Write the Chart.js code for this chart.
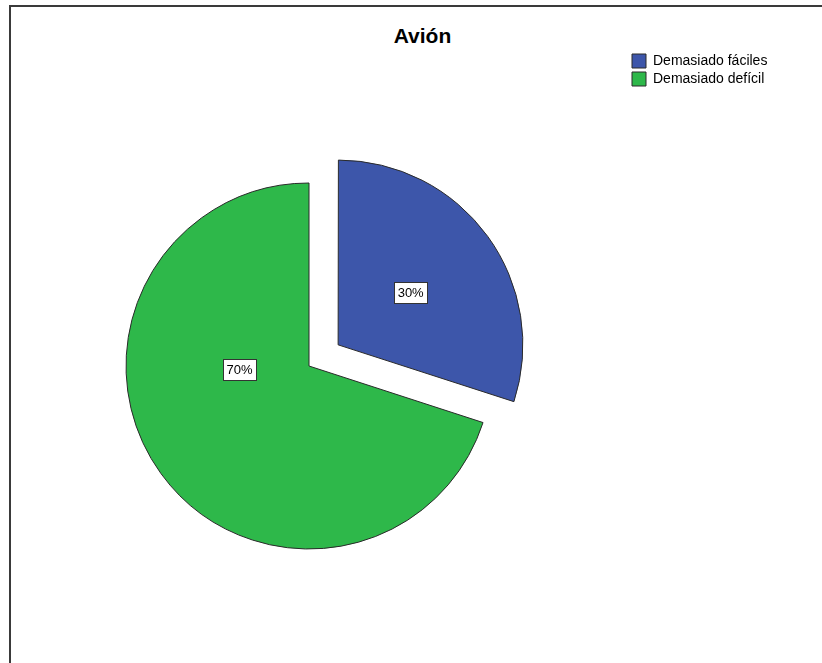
<!DOCTYPE html>
<html lang="es">
<head>
<meta charset="utf-8">
<title>Avión</title>
<script src="https://cdn.jsdelivr.net/npm/chart.js@4/dist/chart.umd.min.js"></script>
<style>
    html, body {
        margin: 0;
        padding: 0;
        width: 822px;
        height: 663px;
        overflow: hidden;
        background: #ffffff;
        font-family: "Liberation Sans", Arial, sans-serif;
    }
    #frame {
        position: absolute;
        left: 9px;
        top: 5px;
        width: 830px;
        height: 680px;
        border-left: 2px solid #3a3a3a;
        border-top: 2px solid #3a3a3a;
    }
    #title {
        position: absolute;
        left: 0;
        top: 25px;
        width: 845px;
        text-align: center;
        font-weight: bold;
        font-size: 21px;
        line-height: 21px;
        color: #000;
    }
    #wrap {
        position: absolute;
        left: -10px;
        top: 0;
        width: 832px;
        height: 760px;
    }
</style>
</head>
<body>
<div id="frame"></div>
<div id="title">Avión</div>
<div id="wrap"><canvas id="pieChart" width="832" height="760"></canvas></div>

<script>
// Данные диаграммы
const categories = ['Demasiado fáciles', 'Demasiado defícil'];
const values = [30, 70];
const sliceColors = ['#3d56aa', '#2eb84a'];

// Подписи процентов в белых рамках
const pctLabels = {
    id: 'pctLabels',
    afterDatasetsDraw(chart, args, opts) {
        const ctx = chart.ctx;
        const meta = chart.getDatasetMeta(0);
        const total = values.reduce((a, b) => a + b, 0);
        ctx.save();
        ctx.font = '13px "Liberation Sans", Arial, sans-serif';
        ctx.textAlign = 'center';
        ctx.textBaseline = 'middle';
        meta.data.forEach((arc, i) => {
            const p = arc.getProps(['x', 'y', 'startAngle', 'endAngle', 'outerRadius'], true);
            const mid = (p.startAngle + p.endAngle) / 2;
            const shift = (arc.options.offset || 0) / 4;
            const cx = p.x + Math.cos(mid) * shift;
            const cy = p.y + Math.sin(mid) * shift;
            const pos = opts.positions[i];
            const a = pos[0] * Math.PI / 180;
            const lx = cx + Math.cos(a) * p.outerRadius * pos[1];
            const ly = cy + Math.sin(a) * p.outerRadius * pos[1];
            const text = Math.round(values[i] / total * 100) + '%';
            const w = ctx.measureText(text).width + 7;
            const h = 21;
            ctx.fillStyle = '#ffffff';
            ctx.fillRect(Math.round(lx - w / 2) + 0.5, Math.round(ly - h / 2) + 0.5, Math.round(w), h);
            ctx.strokeStyle = '#333333';
            ctx.lineWidth = 1;
            ctx.strokeRect(Math.round(lx - w / 2) + 0.5, Math.round(ly - h / 2) + 0.5, Math.round(w), h);
            ctx.fillStyle = '#000000';
            ctx.fillText(text, lx, ly + 1);
        });
        ctx.restore();
    }
};

Chart.defaults.font.family = '"Liberation Sans", Arial, sans-serif';

const ctx = document.getElementById('pieChart').getContext('2d');
new Chart(ctx, {
    type: 'pie',
    data: {
        labels: categories,
        datasets: [{
            data: values,
            backgroundColor: sliceColors,
            borderColor: '#2a2a2a',
            borderWidth: 1,
            offset: [144, 0],
            hoverOffset: 0
        }]
    },
    options: {
        responsive: false,
        animation: false,
        radius: 183,
        layout: {
            padding: { left: 0, right: 54, top: 50, bottom: 78 }
        },
        plugins: {
            legend: {
                display: true,
                position: 'right',
                align: 'start',
                maxWidth: 140,
                labels: {
                    boxWidth: 14,
                    boxHeight: 14,
                    padding: 4,
                    color: '#000000',
                    font: { size: 14 }
                }
            },
            title: { display: false },
            tooltip: { enabled: false },
            pctLabels: {
                positions: [[-36, 0.49], [177, 0.38]]
            }
        }
    },
    plugins: [pctLabels]
});
</script>
</body>
</html>
